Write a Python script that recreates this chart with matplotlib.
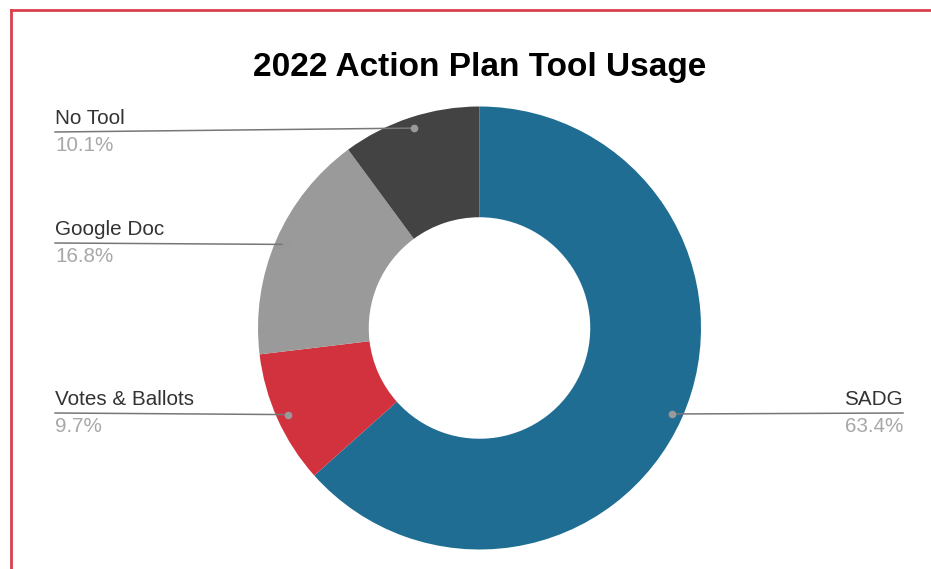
import numpy as np
import matplotlib
matplotlib.use("Agg")
import matplotlib.pyplot as plt
from matplotlib.lines import Line2D

# data
labels = ["SADG", "Votes & Ballots", "Google Doc", "No Tool"]
shares = [63.4, 9.7, 16.8, 10.1]
colors = ["#1f6d93", "#d1323e", "#9a9a9a", "#434343"]

# pixel layout (y measured from top of image)
W, H = 931, 569
cx, cy, R = 479.5, 328, 221.5
line_y = [413, 413, 243, 132]
text_left, text_right = 55, 903

plt.rcParams['font.family'] = ['Liberation Sans', 'DejaVu Sans']

fig = plt.figure(figsize=(W / 100, H / 100), dpi=100)
ax = fig.add_axes([0, 0, 1, 1])
ax.axis('off')

wedges, _ = ax.pie(shares, colors=colors, startangle=90, counterclock=False,
                   center=(cx, H - cy), radius=R,
                   wedgeprops=dict(width=R * 0.5, edgecolor='none'))
ax.set_xlim(0, W)
ax.set_ylim(0, H)
ax.set_aspect('auto')

# leader lines + labels
for w, lab, val, ly in zip(wedges, labels, shares, line_y):
    mid = np.deg2rad((w.theta1 + w.theta2) / 2)
    dx = cx + 0.95 * R * np.cos(mid)
    dy = (H - cy) + 0.95 * R * np.sin(mid)
    ly_d = H - ly
    right = np.cos(mid) > 0
    x_end = text_right if right else text_left
    ax.plot([dx, x_end], [dy, ly_d], color='#777777', lw=1.1, zorder=3)
    ax.plot(dx, dy, 'o', color='#999999', ms=4.5, zorder=4)
    ha = 'right' if right else 'left'
    ax.text(x_end, ly_d + 4, lab, ha=ha, va='bottom', fontsize=14.9, color='#333333')
    ax.text(x_end, ly_d - 4, f"{val:.1f}%", ha=ha, va='top', fontsize=14.9, color='#a8a8a8')

ax.text(cx, H - 67, "2022 Action Plan Tool Usage", ha='center', va='center',
        fontsize=24, fontweight='bold', color='#000000')

# red frame on top and left
fig.add_artist(Line2D([11 / W, 1], [1 - 10 / H, 1 - 10 / H], color='#d8404c', lw=2,
                      transform=fig.transFigure))
fig.add_artist(Line2D([11 / W, 11 / W], [0, 1 - 10 / H], color='#d8404c', lw=2,
                      transform=fig.transFigure))

fig.savefig("out.png", dpi=100)
